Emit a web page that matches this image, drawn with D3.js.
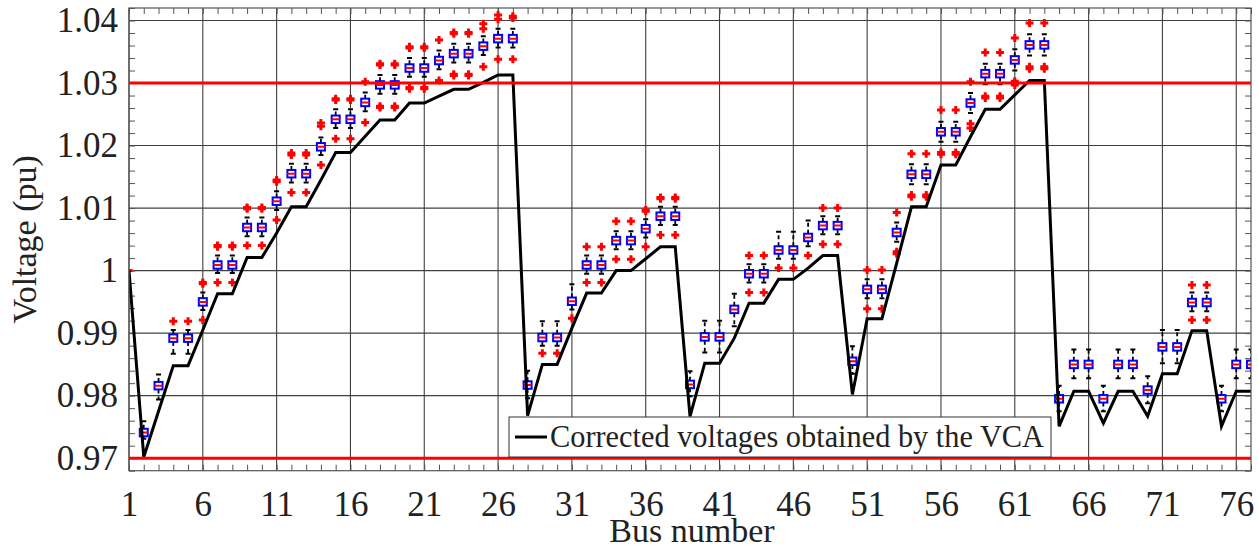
<!DOCTYPE html>
<html lang="en">
<head>
<meta charset="UTF-8">
<title>Bus voltages</title>
<script src="https://d3js.org/d3.v7.min.js"></script>
<style>
  body { margin: 0; background: #fff; }
  text { font-family: "Liberation Serif", "Times New Roman", serif; fill: #222; }
</style>
</head>
<body>
<svg id="chart"></svg>
<script>
const W = 1258, H = 545;

// bus numbers (categories)
const buses = [1,2,3,4,5,6,7,8,9,10,11,12,13,14,15,16,17,18,19,20,21,22,23,24,25,26,27,28,29,30,
  31,32,33,34,35,36,37,38,39,40,41,42,43,44,45,46,47,48,49,50,51,52,53,54,55,56,57,58,59,60,
  61,62,63,64,65,66,67,68,69,70,71,72,73,74,75,76,77];

// corrected voltages obtained by the VCA (black line)
const corrected = [1.0000,0.9702,0.9775,0.9848,0.9848,0.9905,0.9963,0.9963,1.0021,1.0021,
  1.0060,1.0102,1.0102,1.0145,1.0189,1.0189,1.0215,1.0241,1.0241,1.0268,
  1.0268,1.0279,1.0290,1.0290,1.0301,1.0313,1.0313,0.9768,0.9850,0.9850,
  0.9908,0.9964,0.9964,1.0000,1.0000,1.0019,1.0038,1.0038,0.9767,0.9852,
  0.9852,0.9892,0.9948,0.9948,0.9986,0.9986,1.0004,1.0024,1.0024,0.9802,
  0.9923,0.9923,1.0012,1.0102,1.0102,1.0169,1.0169,1.0214,1.0258,1.0258,
  1.0281,1.0304,1.0304,0.9751,0.9807,0.9807,0.9756,0.9807,0.9807,0.9767,
  0.9835,0.9835,0.9904,0.9904,0.9751,0.9807,0.9807];

// box plot statistics per bus
const median = [1.0000,0.9741,0.9816,0.9892,0.9892,0.9950,1.0009,1.0009,1.0069,1.0069,
  1.0111,1.0155,1.0155,1.0198,1.0242,1.0242,1.0269,1.0297,1.0297,1.0324,
  1.0324,1.0336,1.0347,1.0347,1.0359,1.0371,1.0371,0.9817,0.9893,0.9893,
  0.9951,1.0009,1.0009,1.0048,1.0048,1.0067,1.0087,1.0087,0.9818,0.9894,
  0.9894,0.9938,0.9995,0.9995,1.0033,1.0033,1.0053,1.0072,1.0072,0.9855,
  0.9970,0.9970,1.0061,1.0154,1.0154,1.0222,1.0222,1.0268,1.0315,1.0315,
  1.0337,1.0361,1.0361,0.9795,0.9850,0.9850,0.9795,0.9850,0.9850,0.9809,
  0.9878,0.9878,0.9949,0.9949,0.9795,0.9850,0.9850];

const q1 = [1.0000,0.9735,0.9810,0.9886,0.9886,0.9944,1.0003,1.0003,1.0063,1.0063,
  1.0105,1.0149,1.0149,1.0192,1.0236,1.0236,1.0263,1.0291,1.0291,1.0318,
  1.0318,1.0330,1.0341,1.0341,1.0353,1.0365,1.0365,0.9811,0.9887,0.9887,
  0.9945,1.0003,1.0003,1.0042,1.0042,1.0061,1.0081,1.0081,0.9812,0.9888,
  0.9888,0.9932,0.9989,0.9989,1.0027,1.0027,1.0047,1.0066,1.0066,0.9849,
  0.9964,0.9964,1.0055,1.0148,1.0148,1.0216,1.0216,1.0262,1.0309,1.0309,
  1.0331,1.0355,1.0355,0.9789,0.9844,0.9844,0.9789,0.9844,0.9844,0.9803,
  0.9872,0.9872,0.9943,0.9943,0.9789,0.9844,0.9844];

const q3 = [1.0000,0.9747,0.9822,0.9898,0.9898,0.9956,1.0015,1.0015,1.0075,1.0075,
  1.0117,1.0161,1.0161,1.0204,1.0248,1.0248,1.0275,1.0303,1.0303,1.0330,
  1.0330,1.0342,1.0353,1.0353,1.0365,1.0377,1.0377,0.9823,0.9899,0.9899,
  0.9957,1.0015,1.0015,1.0054,1.0054,1.0073,1.0093,1.0093,0.9824,0.9900,
  0.9900,0.9944,1.0001,1.0001,1.0039,1.0039,1.0059,1.0078,1.0078,0.9861,
  0.9976,0.9976,1.0067,1.0160,1.0160,1.0228,1.0228,1.0274,1.0321,1.0321,
  1.0343,1.0367,1.0367,0.9801,0.9856,0.9856,0.9801,0.9856,0.9856,0.9815,
  0.9884,0.9884,0.9955,0.9955,0.9801,0.9856,0.9856];

const whiskerLow = [1.0000,0.9731,0.9794,0.9867,0.9867,0.9937,0.9996,0.9996,1.0055,1.0055,
  1.0097,1.0141,1.0141,1.0185,1.0228,1.0228,1.0255,1.0283,1.0283,1.0310,
  1.0310,1.0322,1.0333,1.0333,1.0345,1.0357,1.0357,0.9796,0.9880,0.9880,
  0.9938,0.9995,0.9995,1.0034,1.0034,1.0053,1.0073,1.0073,0.9799,0.9869,
  0.9869,0.9911,0.9981,0.9981,1.0019,1.0019,1.0039,1.0058,1.0058,0.9835,
  0.9956,0.9956,1.0046,1.0138,1.0138,1.0206,1.0206,1.0252,1.0298,1.0298,
  1.0320,1.0344,1.0344,0.9775,0.9828,0.9828,0.9775,0.9828,0.9828,0.9788,
  0.9852,0.9852,0.9935,0.9935,0.9775,0.9828,0.9828];

const whiskerHigh = [1.0000,0.9759,0.9834,0.9905,0.9905,0.9965,1.0024,1.0024,1.0085,1.0085,
  1.0127,1.0171,1.0171,1.0213,1.0258,1.0258,1.0285,1.0313,1.0313,1.0340,
  1.0340,1.0352,1.0363,1.0363,1.0375,1.0387,1.0387,0.9840,0.9919,0.9919,
  0.9978,1.0024,1.0024,1.0063,1.0063,1.0082,1.0102,1.0102,0.9839,0.9920,
  0.9920,0.9963,1.0010,1.0010,1.0062,1.0062,1.0080,1.0087,1.0087,0.9879,
  0.9986,0.9986,1.0077,1.0170,1.0170,1.0238,1.0238,1.0284,1.0331,1.0331,
  1.0354,1.0378,1.0378,0.9816,0.9874,0.9874,0.9816,0.9874,0.9874,0.9831,
  0.9905,0.9905,0.9965,0.9965,0.9816,0.9874,0.9874];

const outliers = [
  [], [], [], [0.9919], [0.9919],
  [0.9981,0.9979,0.9921], [1.0040,1.0038,0.9981], [1.0040,1.0038,0.9981],
  [1.0101,1.0099,1.0040], [1.0101,1.0099,1.0040],
  [1.0145,1.0142,1.0081], [1.0188,1.0185,1.0125], [1.0188,1.0185,1.0125],
  [1.0236,1.0231,1.0169], [1.0275,1.0273,1.0211], [1.0275,1.0273,1.0211],
  [1.0302,1.0237], [1.0331,1.0329,1.0263,1.0261], [1.0331,1.0329,1.0263,1.0261],
  [1.0358,1.0356,1.0293,1.0291], [1.0358,1.0356,1.0293,1.0291],
  [1.0369,1.0304], [1.0381,1.0379,1.0314,1.0312], [1.0381,1.0379,1.0314,1.0312],
  [1.0395,1.0387,1.0326], [1.0409,1.0402,1.0338], [1.0407,1.0404,1.0338],
  [], [0.9868], [0.9868], [0.9924],
  [1.0038,0.9981], [1.0038,0.9981], [1.0079,1.0018], [1.0079,1.0018],
  [1.0097,1.0095,1.0038], [1.0117,1.0115,1.0057], [1.0117,1.0115,1.0057],
  [], [], [], [],
  [1.0024,0.9965], [1.0024,0.9965], [1.0004], [1.0004], [1.0024],
  [1.0100,1.0042], [1.0100,1.0042], [],
  [1.0001,0.9939], [1.0001,0.9939], [1.0093,1.0030,1.0027],
  [1.0187,1.0121,1.0118], [1.0187,1.0121,1.0118],
  [1.0257,1.0189,1.0186], [1.0257,1.0189,1.0186],
  [1.0302,1.0235,1.0228], [1.0349,1.0279,1.0276], [1.0349,1.0279,1.0276],
  [1.0372,1.0303,1.0300,1.0297], [1.0396,1.0326,1.0323], [1.0396,1.0326,1.0323],
  [], [], [], [], [], [], [], [], [],
  [0.9977,0.9921], [0.9977,0.9921], [], [], []
];

// limits
const limits = [0.97, 1.03];

// axis ticks
const xTicks = [1,6,11,16,21,26,31,36,41,46,51,56,61,66,71,76];
const yTicks = [0.97,0.98,0.99,1.00,1.01,1.02,1.03,1.04];
const yTickLabels = ["0.97","0.98","0.99","1","1.01","1.02","1.03","1.04"];
const yMinor = [0.968,0.970,0.972,0.974,0.976,0.978,0.980,0.982,0.984,0.986,0.988,0.990,
  0.992,0.994,0.996,0.998,1.000,1.002,1.004,1.006,1.008,1.010,1.012,1.014,1.016,1.018,
  1.020,1.022,1.024,1.026,1.028,1.030,1.032,1.034,1.036,1.038,1.040,1.042];

const legendLabel = "Corrected voltages obtained by the VCA";

const plot = { left: 129, right: 1251, top: 8, bottom: 470.7 };

const svg = d3.select("#chart").attr("width", W).attr("height", H);
svg.append("rect").attr("width", W).attr("height", H).attr("fill", "#fff");

const x = d3.scaleLinear().domain([1, 77]).range([plot.left, plot.right]);
const y = d3.scaleLinear().domain([0.968, 1.042]).range([plot.bottom, plot.top]);

svg.append("clipPath").attr("id", "clip")
  .append("rect")
  .attr("x", plot.left).attr("y", plot.top)
  .attr("width", plot.right - plot.left).attr("height", plot.bottom - plot.top);

// grid
const grid = svg.append("g").attr("stroke", "#404040").attr("stroke-width", 1.1);
grid.selectAll(".gx").data(xTicks).join("line")
  .attr("x1", d => x(d)).attr("x2", d => x(d))
  .attr("y1", plot.top).attr("y2", plot.bottom);
grid.selectAll(".gy").data(yTicks).join("line")
  .attr("x1", plot.left).attr("x2", plot.right)
  .attr("y1", d => y(d)).attr("y2", d => y(d));

// minor ticks (inward) on all sides
const tickG = svg.append("g");
tickG.append("g").attr("transform", `translate(0,${plot.bottom})`)
  .call(d3.axisBottom(x).tickValues(buses).tickSize(-6).tickFormat(""))
  .call(g => g.select(".domain").remove());
tickG.append("g").attr("transform", `translate(0,${plot.top})`)
  .call(d3.axisTop(x).tickValues(buses).tickSize(-6).tickFormat(""))
  .call(g => g.select(".domain").remove());
tickG.append("g").attr("transform", `translate(${plot.left},0)`)
  .call(d3.axisLeft(y).tickValues(yMinor).tickSize(-6).tickFormat(""))
  .call(g => g.select(".domain").remove());
tickG.append("g").attr("transform", `translate(${plot.right},0)`)
  .call(d3.axisRight(y).tickValues(yMinor).tickSize(-6).tickFormat(""))
  .call(g => g.select(".domain").remove());
tickG.selectAll("line").attr("stroke", "#555").attr("stroke-width", 1);

// tick labels
const xl = svg.append("g").attr("transform", `translate(0,${plot.bottom})`)
  .call(d3.axisBottom(x).tickValues(xTicks).tickSize(0).tickPadding(20));
xl.select(".domain").remove();
xl.selectAll("text").attr("font-family", "Liberation Serif").attr("font-size", 35).attr("fill", "#222");

const yl = svg.append("g").attr("transform", `translate(${plot.left},0)`)
  .call(d3.axisLeft(y).tickValues(yTicks).tickSize(0).tickPadding(11)
    .tickFormat((d, i) => yTickLabels[i]));
yl.select(".domain").remove();
yl.selectAll("text").attr("font-family", "Liberation Serif").attr("font-size", 35).attr("fill", "#222");

// plot content
const content = svg.append("g").attr("clip-path", "url(#clip)");

const bw = 8;
const boxes = content.selectAll(".box").data(buses).join("g").attr("class", "box");

// whiskers
boxes.append("line")
  .attr("x1", d => x(d)).attr("x2", d => x(d))
  .attr("y1", (d, i) => y(q3[i])).attr("y2", (d, i) => y(whiskerHigh[i]))
  .attr("stroke", "#000").attr("stroke-width", 1.8).attr("stroke-dasharray", "4,3");
boxes.append("line")
  .attr("x1", d => x(d)).attr("x2", d => x(d))
  .attr("y1", (d, i) => y(q1[i])).attr("y2", (d, i) => y(whiskerLow[i]))
  .attr("stroke", "#000").attr("stroke-width", 1.8).attr("stroke-dasharray", "4,3");
boxes.append("line")
  .attr("x1", d => x(d) - 2.5).attr("x2", d => x(d) + 2.5)
  .attr("y1", (d, i) => y(whiskerHigh[i])).attr("y2", (d, i) => y(whiskerHigh[i]))
  .attr("stroke", "#000").attr("stroke-width", 2);
boxes.append("line")
  .attr("x1", d => x(d) - 2.5).attr("x2", d => x(d) + 2.5)
  .attr("y1", (d, i) => y(whiskerLow[i])).attr("y2", (d, i) => y(whiskerLow[i]))
  .attr("stroke", "#000").attr("stroke-width", 2);

// box
boxes.append("rect")
  .attr("x", d => x(d) - bw / 2).attr("width", bw)
  .attr("y", (d, i) => y(q3[i])).attr("height", (d, i) => y(q1[i]) - y(q3[i]))
  .attr("fill", "#fff").attr("stroke", "#0000ff").attr("stroke-width", 2);

// median
boxes.append("line")
  .attr("x1", d => x(d) - bw / 2).attr("x2", d => x(d) + bw / 2)
  .attr("y1", (d, i) => y(median[i])).attr("y2", (d, i) => y(median[i]))
  .attr("stroke", "#ff0000").attr("stroke-width", 2);

// outliers
const outPts = buses.flatMap((b, i) => outliers[i].map(v => ({ b, v })));
content.selectAll(".out").data(outPts).join("path")
  .attr("class", "out")
  .attr("d", d => `M${x(d.b) - 4},${y(d.v)}h8M${x(d.b)},${y(d.v) - 4}v8`)
  .attr("stroke", "#ff0000").attr("stroke-width", 3).attr("fill", "none");

// corrected voltage line
content.append("path")
  .datum(buses)
  .attr("d", d3.line().x(d => x(d)).y((d, i) => y(corrected[i])))
  .attr("fill", "none").attr("stroke", "#000").attr("stroke-width", 3)
  .attr("stroke-linejoin", "miter");

// limit lines
content.selectAll(".limit").data(limits).join("line")
  .attr("x1", plot.left).attr("x2", plot.right)
  .attr("y1", d => y(d)).attr("y2", d => y(d))
  .attr("stroke", "#ff0000").attr("stroke-width", 3);

// frame
svg.append("rect")
  .attr("x", plot.left).attr("y", plot.top)
  .attr("width", plot.right - plot.left).attr("height", plot.bottom - plot.top)
  .attr("fill", "none").attr("stroke", "#555").attr("stroke-width", 1.2);

// legend
const lg = svg.append("g");
lg.append("rect").attr("x", 509).attr("y", 417).attr("width", 542).attr("height", 40)
  .attr("fill", "#fff").attr("stroke", "#333").attr("stroke-width", 1);
lg.append("line").attr("x1", 515).attr("x2", 547).attr("y1", 437).attr("y2", 437)
  .attr("stroke", "#000").attr("stroke-width", 3);
lg.append("text").attr("x", 550).attr("y", 447).attr("font-size", 31)
  .attr("textLength", 494).attr("lengthAdjust", "spacingAndGlyphs").text(legendLabel);

// axis titles
svg.append("text").attr("x", 692).attr("y", 542).attr("text-anchor", "middle")
  .attr("font-size", 34).text("Bus number");
svg.append("text").attr("transform", `translate(36,${(plot.top + plot.bottom) / 2}) rotate(-90)`)
  .attr("text-anchor", "middle").attr("font-size", 34).text("Voltage (pu)");
</script>
</body>
</html>
